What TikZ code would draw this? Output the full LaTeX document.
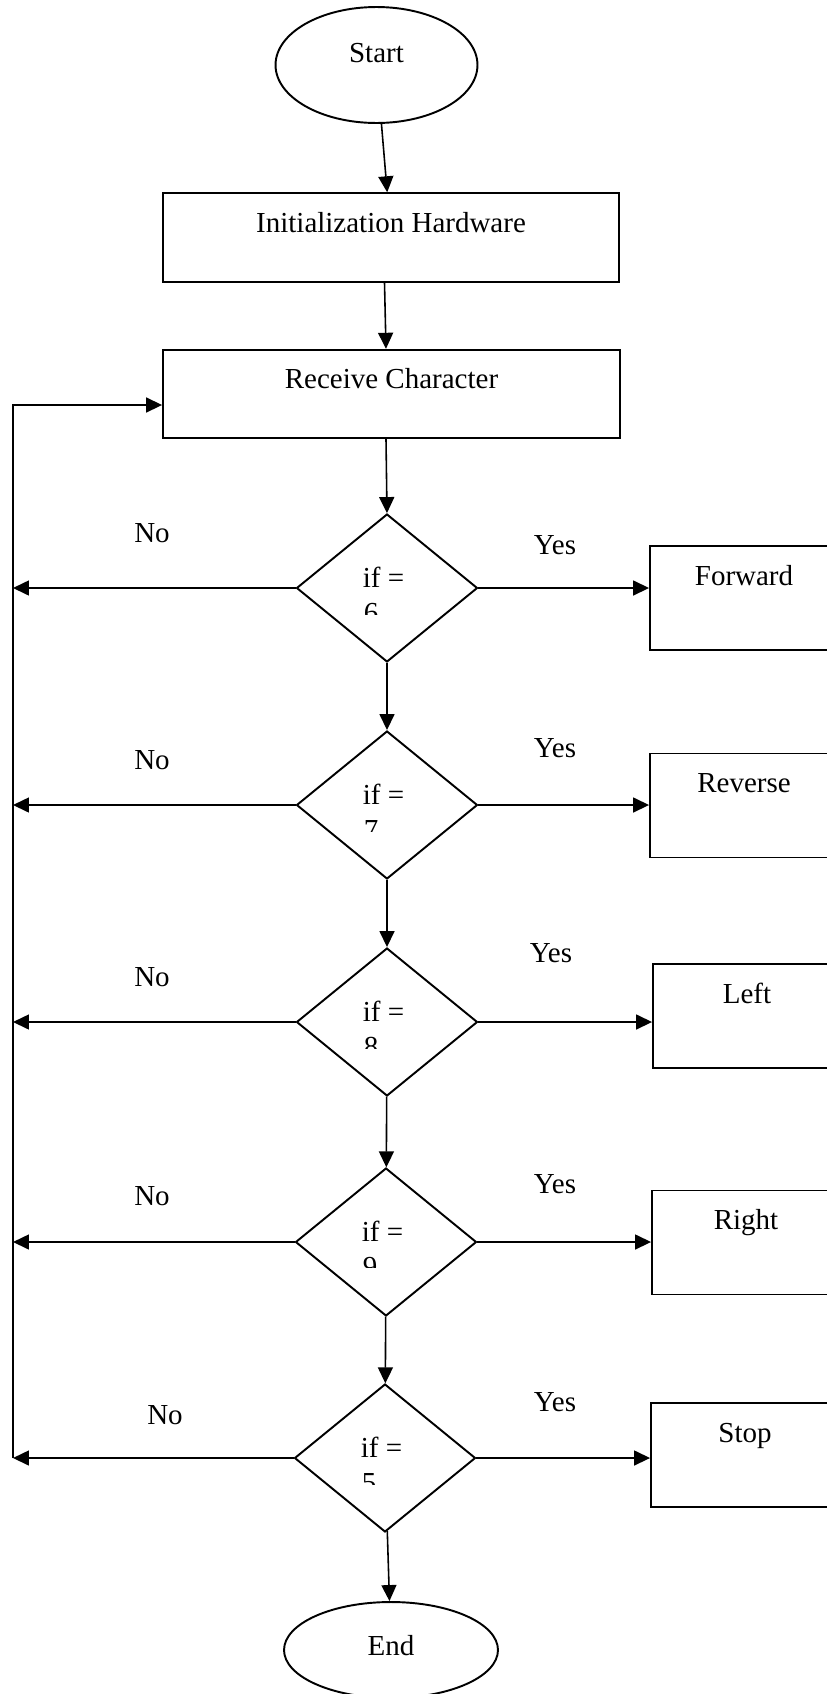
\documentclass[tikz,border=0pt]{standalone}
\usepackage{fontspec}
\setmainfont{Liberation Serif}
\usetikzlibrary{shapes.geometric,arrows.meta}

\begin{document}
\begin{tikzpicture}
        [x=0.02cm,y=-0.02cm,line width=0.9pt,>={Triangle[length=0.32cm,width=0.3cm]},
         every node/.style={font=\fontsize{16.5pt}{19.8pt}\selectfont,inner sep=0pt},
         term/.style={ellipse,draw,line width=1.1pt,text height=0.4cm},
         proc/.style={rectangle,draw,line width=1.1pt,minimum width=9.14cm,minimum height=1.77cm,text height=0.4cm,text depth=0.62cm},
         act/.style={rectangle,draw,line width=1.1pt,minimum width=3.76cm,minimum height=2.08cm,text height=0.4cm,text depth=0.92cm},
         cond/.style={diamond,draw,line width=1.1pt,minimum width=3.62cm,minimum height=2.96cm}]
        \useasboundingbox (0,0) rectangle (827,1694);
        \clip (0,0) rectangle (827,1694);

        \node[term,minimum width=4.04cm,minimum height=2.32cm,text depth=0.5cm] (start) at (376.5,65) {Start};
        \node[proc] (init) at (391,237.5) {Initialization Hardware};
        \node[proc] (recv) at (391.5,394) {Receive Character};
        \node[cond] (c6) at (387,588) {};
        \node[cond] (c7) at (387,805) {};
        \node[cond] (c8) at (387,1022) {};
        \node[cond] (c9) at (386,1242) {};
        \node[cond] (c5) at (385,1458) {};
        \node[term,minimum width=4.28cm,minimum height=1.92cm,text depth=0.18cm] (end) at (391,1650) {End};

        \node[act] (fwd) at (744,598) {Forward};
        \node[act] (rev) at (744,805.5) {Reverse};
        \node[act] (left) at (747,1016) {Left};
        \node[act] (right) at (746,1242.5) {Right};
        \node[act] (stop) at (745,1455) {Stop};

        \node (no6) at (152,533) {No};
        \node (no7) at (152,760) {No};
        \node (no8) at (152,977) {No};
        \node (no9) at (152,1196) {No};
        \node (no5) at (165,1415) {No};
        \node (yes6) at (555,545) {Yes};
        \node (yes7) at (555,748) {Yes};
        \node (yes8) at (551,953) {Yes};
        \node (yes9) at (555,1184) {Yes};
        \node (yes5) at (555,1402) {Yes};

        \node[anchor=base west] (q6) at (362,587) {if =};
        \node[anchor=base west] (q7) at (362,804) {if =};
        \node[anchor=base west] (q8) at (362,1021) {if =};
        \node[anchor=base west] (q9) at (361,1241) {if =};
        \node[anchor=base west] (q5) at (360,1457) {if =};
        \begin{scope}
            \clip (340,560) rectangle (430,614);
            \node[anchor=base west] (v6) at (363,622) {6};
        \end{scope}
        \begin{scope}
            \clip (340,777) rectangle (430,831);
            \node[anchor=base west] (v7) at (363,839) {7};
        \end{scope}
        \begin{scope}
            \clip (340,994) rectangle (430,1048);
            \node[anchor=base west] (v8) at (363,1056) {8};
        \end{scope}
        \begin{scope}
            \clip (340,1214) rectangle (430,1267);
            \node[anchor=base west] (v9) at (362,1276) {9};
        \end{scope}
        \begin{scope}
            \clip (340,1430) rectangle (430,1484);
            \node[anchor=base west] (v5) at (361,1492) {5};
        \end{scope}

        \coordinate (rail) at (13,405);

        \draw[->] (start) -- (init);
        \draw[->] ([xshift=-0.13cm]init.south) -- ([xshift=-0.11cm]recv.north);
        \draw[->] ([xshift=-0.11cm]recv.south) -- (c6.north);
        \draw[->] (c6) -- (c7);
        \draw[->] (c7) -- (c8);
        \draw[->] (c8) -- (c9);
        \draw[->] (c9) -- (c5);
        \draw[->] (c5) -- (end);

        \draw[->] (c6.east) -- (c6.east -| fwd.west);
        \draw[->] (c7.east) -- (c7.east -| rev.west);
        \draw[->] (c8.east) -- (c8.east -| left.west);
        \draw[->] (c9.east) -- (c9.east -| right.west);
        \draw[->] (c5.east) -- (c5.east -| stop.west);

        \draw[->] (c6.west) -- (c6.west -| rail);
        \draw[->] (c7.west) -- (c7.west -| rail);
        \draw[->] (c8.west) -- (c8.west -| rail);
        \draw[->] (c9.west) -- (c9.west -| rail);
        \draw[->] (c5.west) -- (c5.west -| rail);
        \draw[->] (c5.west -| rail) -- (rail) -- (rail -| recv.west);
    \end{tikzpicture}
\end{document}
